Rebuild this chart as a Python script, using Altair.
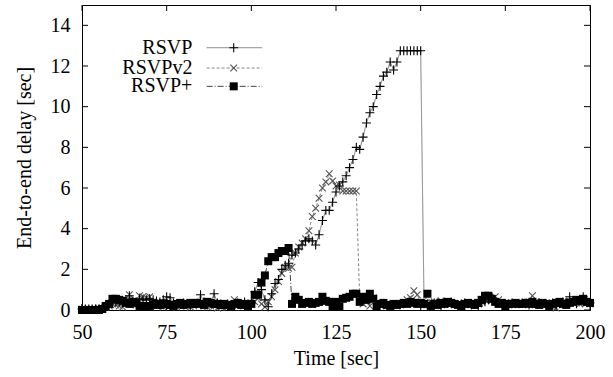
import altair as alt
import pandas as pd

# ---- data (one sample per second, t = 50 .. 200) ----
t_start = 50
rsvp = [
    0.05, 0.05, 0.05, 0.05, 0.05, 0.05, 0.1, 0.2, 0.3, 0.35,
    0.4, 0.4, 0.35, 0.5, 0.7, 0.45, 0.4, 0.55, 0.5, 0.5,
    0.55, 0.5, 0.45, 0.4, 0.5, 0.65, 0.6, 0.35, 0.3, 0.3,
    0.35, 0.3, 0.25, 0.3, 0.35, 0.75, 0.4, 0.3, 0.35, 0.8,
    0.35, 0.3, 0.25, 0.3, 0.2, 0.3, 0.35, 0.3, 0.4, 0.3,
    0.35, 0.9, 1.35, 1.0, 0.5, 0.16, 0.8, 1.3, 1.5, 2.0,
    2.2, 2.3, 2.7, 2.8, 3.0, 3.2, 3.4, 3.5, 3.4, 3.2,
    3.7, 4.4, 4.9, 4.9, 5.3, 5.8, 6.1, 6.3, 6.6, 7.0,
    7.4, 8.0, 7.9, 8.5, 9.2, 9.7, 10.0, 10.6, 11.0, 11.5,
    11.7, 12.2, 11.8, 12.2, 12.75, 12.75, 12.75, 12.75, 12.75, 12.75,
    12.75, 0.3, 0.3, 0.25, 0.35, 0.3, 0.2, 0.3, 0.35, 0.4,
    0.3, 0.25, 0.3, 0.35, 0.3, 0.25, 0.3, 0.2, 0.35, 0.4,
    0.5, 0.55, 0.4, 0.35, 0.3, 0.25, 0.3, 0.35, 0.3, 0.3,
    0.35, 0.3, 0.25, 0.3, 0.3, 0.35, 0.3, 0.25, 0.3, 0.35,
    0.2, 0.3, 0.4, 0.35, 0.65, 0.4, 0.3, 0.5, 0.65, 0.4,
    0.35,
]
rsvp_v2 = [
    0.05, 0.05, 0.05, 0.05, 0.05, 0.1, 0.1, 0.15, 0.2, 0.3,
    0.25, 0.2, 0.15, 0.45, 0.75, 0.3, 0.25, 0.7, 0.65, 0.6,
    0.65, 0.4, 0.2, 0.3, 0.15, 0.2, 0.25, 0.2, 0.15, 0.2,
    0.25, 0.2, 0.15, 0.2, 0.3, 0.35, 0.2, 0.15, 0.2, 0.2,
    0.1, 0.15, 0.2, 0.15, 0.25, 0.5, 0.2, 0.3, 0.25, 0.2,
    0.3, 0.4, 0.6, 0.3, 0.15, 0.4, 0.65, 1.0, 1.4, 1.8,
    2.1, 2.05, 2.1, 2.8, 3.1, 3.3, 3.5, 3.9, 4.6, 5.0,
    5.5, 6.0, 6.3, 6.7, 6.35, 6.1, 6.15, 5.85, 5.85, 5.85,
    5.85, 5.85, 0.5, 0.3, 0.4, 0.2, 0.6, 0.3, 0.25, 0.3,
    0.2, 0.25, 0.3, 0.2, 0.25, 0.3, 0.5, 0.6, 0.95, 0.75,
    0.3, 0.25, 0.3, 0.35, 0.4, 0.3, 0.45, 0.3, 0.35, 0.3,
    0.25, 0.3, 0.2, 0.3, 0.25, 0.35, 0.3, 0.3, 0.4, 0.5,
    0.55, 0.45, 0.65, 0.5, 0.3, 0.35, 0.25, 0.3, 0.35, 0.3,
    0.3, 0.35, 0.4, 0.7, 0.4, 0.3, 0.35, 0.3, 0.25, 0.2,
    0.1, 0.3, 0.4, 0.35, 0.45, 0.4, 0.35, 0.3, 0.4, 0.35,
    0.3,
]
rsvp_plus = [
    0.0, 0.0, 0.0, 0.0, 0.0, 0.0, 0.05, 0.2, 0.3, 0.55,
    0.55, 0.5, 0.45, 0.35, 0.3, 0.4, 0.35, 0.2, 0.2, 0.15,
    0.2, 0.25, 0.3, 0.25, 0.3, 0.3, 0.25, 0.2, 0.3, 0.35,
    0.25, 0.3, 0.35, 0.3, 0.35, 0.3, 0.25, 0.4, 0.35, 0.3,
    0.3, 0.25, 0.3, 0.25, 0.2, 0.3, 0.35, 0.25, 0.3, 0.2,
    0.3, 0.75, 0.75, 1.35, 1.7, 2.4, 2.6, 2.6, 2.8, 2.9,
    2.9, 3.05, 0.3, 0.65, 0.5, 0.3, 0.35, 0.4, 0.3, 0.35,
    0.4, 0.65, 0.45, 0.4, 0.15, 0.4, 0.15, 0.55, 0.6, 0.65,
    0.8, 0.8, 0.4, 0.65, 0.5, 0.8, 0.55, 0.15, 0.3, 0.35,
    0.25, 0.2, 0.3, 0.25, 0.3, 0.35, 0.3, 0.4, 0.35, 0.3,
    0.35, 0.3, 0.8, 0.2, 0.3, 0.25, 0.35, 0.3, 0.4, 0.35,
    0.3, 0.25, 0.15, 0.3, 0.35, 0.3, 0.25, 0.35, 0.5, 0.7,
    0.7, 0.55, 0.4, 0.3, 0.35, 0.15, 0.3, 0.3, 0.35, 0.3,
    0.3, 0.35, 0.3, 0.4, 0.3, 0.25, 0.35, 0.3, 0.2, 0.3,
    0.35, 0.4, 0.3, 0.25, 0.35, 0.4, 0.5, 0.45, 0.55, 0.4,
    0.35,
]
series_names = ["RSVP", "RSVPv2", "RSVP+"]
x_ticks = [50, 75, 100, 125, 150, 175, 200]
y_ticks = [0, 2, 4, 6, 8, 10, 12, 14]

# legend placement (in data units)
legend_text_t = 82.6
legend_line_t = [86.8, 103.2]
legend_mark_t = 94.8
legend_rows_v = [12.9, 11.9, 11.0]

W, H = 508, 305
FONT = "Times New Roman, Liberation Serif, DejaVu Serif, serif"

# ---- tables ----
rows = []
for name, vals in zip(series_names, [rsvp, rsvp_v2, rsvp_plus]):
    for i, v in enumerate(vals):
        rows.append({"t": t_start + i, "v": v, "s": name})
df = pd.DataFrame(rows)

leg = pd.DataFrame({
    "s": series_names,
    "tt": [legend_text_t] * 3,
    "t1": [legend_line_t[0]] * 3,
    "t2": [legend_line_t[1]] * 3,
    "tm": [legend_mark_t] * 3,
    "v": legend_rows_v,
})

xs = alt.Scale(domain=[50, 200], nice=False, zero=False)
ys = alt.Scale(domain=[0, 15], nice=False)

PLUS = "M-1,0H1M0,-1V1"
XMARK = "M-1,-1L1,1M1,-1L-1,1"

styles = {
    "RSVP": dict(color="#777777", dash=[1, 0], mcolor="#000000", shape=PLUS, filled=False, size=80),
    "RSVPv2": dict(color="#888888", dash=[3, 2], mcolor="#555555", shape=XMARK, filled=False, size=45),
    "RSVP+": dict(color="#444444", dash=[6, 2, 1, 2], mcolor="#000000", shape="square", filled=True, size=64),
}

base = alt.Chart(df)

x_enc = alt.X("t:Q", scale=xs, axis=alt.Axis(
    values=x_ticks, title="Time [sec]", tickSize=0, labelPadding=12, labelFlush=False,
    titlePadding=6, domain=False, grid=False))
y_enc = alt.Y("v:Q", scale=ys, axis=alt.Axis(
    values=y_ticks, title="End-to-end delay [sec]", tickSize=0, labelPadding=12, labelFlush=False,
    titlePadding=16, domain=False, grid=False))

layers = []
for name in series_names:
    st = styles[name]
    layers.append(
        base.transform_filter(alt.datum.s == name)
        .mark_line(color=st["color"], strokeDash=st["dash"], strokeWidth=1)
        .encode(x=x_enc, y=y_enc)
    )
for name in ["RSVPv2", "RSVP", "RSVP+"]:
    st = styles[name]
    kw = dict(shape=st["shape"], size=st["size"], opacity=1)
    if st["filled"]:
        m = base.transform_filter(alt.datum.s == name).mark_point(
            filled=True, fill=st["mcolor"], strokeWidth=0, **kw)
    else:
        m = base.transform_filter(alt.datum.s == name).mark_point(
            filled=False, stroke=st["mcolor"], strokeWidth=1.1, **kw)
    layers.append(m.encode(x="t:Q", y="v:Q"))

# legend
legb = alt.Chart(leg)
layers.append(legb.mark_text(align="right", baseline="middle", font=FONT, fontSize=20, color="#000000")
              .encode(x="tt:Q", y="v:Q", text="s:N"))
for name in series_names:
    st = styles[name]
    sub = legb.transform_filter(alt.datum.s == name)
    layers.append(sub.mark_rule(color=st["color"], strokeDash=st["dash"], strokeWidth=1)
                  .encode(x="t1:Q", x2="t2:Q", y="v:Q"))
    kw = dict(shape=st["shape"], size=st["size"], opacity=1)
    if st["filled"]:
        m = sub.mark_point(filled=True, fill=st["mcolor"], strokeWidth=0, **kw)
    else:
        m = sub.mark_point(filled=False, stroke=st["mcolor"], strokeWidth=1.1, **kw)
    layers.append(m.encode(x="tm:Q", y="v:Q"))

# inward ticks on all four sides
xt = pd.DataFrame({"t": x_ticks})
yt = pd.DataFrame({"v": y_ticks})
TL = 6
layers.append(alt.Chart(xt).mark_rule(color="#000000", strokeWidth=1)
              .encode(x="t:Q", y=alt.value(H), y2=alt.value(H - TL)))
layers.append(alt.Chart(xt).mark_rule(color="#000000", strokeWidth=1)
              .encode(x="t:Q", y=alt.value(0), y2=alt.value(TL)))
layers.append(alt.Chart(yt).mark_rule(color="#000000", strokeWidth=1)
              .encode(y="v:Q", x=alt.value(0), x2=alt.value(TL)))
layers.append(alt.Chart(yt).mark_rule(color="#000000", strokeWidth=1)
              .encode(y="v:Q", x=alt.value(W - TL), x2=alt.value(W)))

chart = alt.layer(*layers).properties(
    width=W, height=H,
    autosize=alt.AutoSizeParams(type="none"),
    padding={"left": 82, "top": 5, "right": 23, "bottom": 67},
    background="white",
).configure_view(stroke="#000000", strokeWidth=1).configure_axis(
    labelFont=FONT, titleFont=FONT, labelFontSize=20, titleFontSize=20,
    labelColor="#000000", titleColor="#000000", titleFontWeight="normal",
).configure_text(font=FONT)

chart.save("out.html", embed_options={"renderer": "svg", "actions": False})
